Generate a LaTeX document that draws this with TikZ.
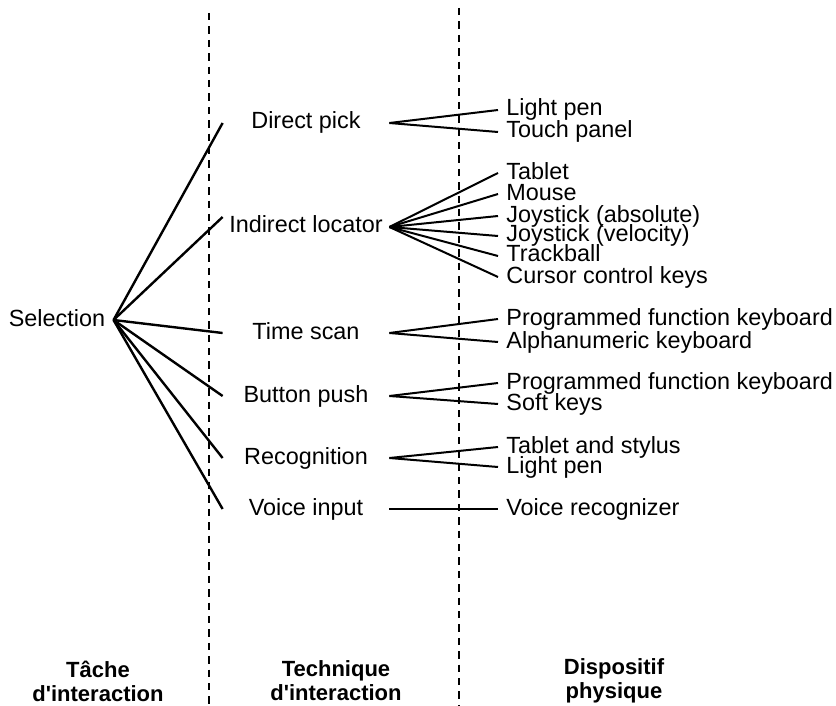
\documentclass[tikz,border=0pt]{standalone}
\usepackage{fontspec}
\setmainfont{Liberation Sans}
\begin{document}
\begin{tikzpicture}[x=0.5pt,y=-0.5pt]
  \tikzset{task/.style = {font=\fontsize{11.7}{14}\selectfont,inner xsep=4pt,inner ysep=0pt,text height=8.4pt,text depth=2.4pt}}
  \tikzset{technique/.style = {task,minimum width=83pt,inner xsep=0pt}}
  \tikzset{device/.style = {task,anchor=west}}
  \tikzset{level/.style = {font=\fontsize{11}{12}\selectfont\bfseries,align=center}}
  \tikzset{branch/.style = {line width=1pt}}
  \tikzset{divider/.style = {dash pattern=on 3.7pt off 3pt,line width=0.8pt}}
  \useasboundingbox (0,0) rectangle (836,706);

  % columns
  \draw[divider] (209,13) -- (209,706);
  \draw[divider] (459,8) -- (459,706);

  \node[task] (sel) at (57,320) {Selection};

  \node[technique] (dp) at (306,123) {Direct pick};
  \node[technique] (il) at (306,227) {Indirect locator};
  \node[technique] (ts) at (306,333) {Time scan};
  \node[technique] (bp) at (306,396) {Button push};
  \node[technique] (rc) at (306,458) {Recognition};
  \node[technique] (vi) at (306,509) {Voice input};

  \node[device] (lp1) at (498,110) {Light pen};
  \node[device] (tp) at (498,132) {Touch panel};
  \node[device] (tab) at (498,173) {Tablet};
  \node[device] (mou) at (498,194) {Mouse};
  \node[device] (jsa) at (498,216) {Joystick (absolute)};
  \node[device] (jsv) at (498,236) {Joystick (velocity)};
  \node[device] (tb) at (498,256) {Trackball};
  \node[device] (cck) at (498,277) {Cursor control keys};
  \node[device] (pfk1) at (498,319) {Programmed function keyboard};
  \node[device] (ank) at (498,342) {Alphanumeric keyboard};
  \node[device] (pfk2) at (498,383) {Programmed function keyboard};
  \node[device] (sk) at (498,404) {Soft keys};
  \node[device] (tas) at (498,447) {Tablet and stylus};
  \node[device] (lp2) at (498,467) {Light pen};
  \node[device] (vr) at (498,509) {Voice recognizer};

  \node[level] (l1) at (98,681) {Tâche\\d\textquotesingle interaction};
  \node[level] (l2) at (336,681) {Technique\\d\textquotesingle interaction};
  \node[level] (l3) at (614,681) {Dispositif\\physique};

  \foreach \to in {dp,ts,bp,rc,vi}
    \draw[branch,line width=1.2pt] (sel.east) -- (\to.west);
  \draw[branch,line width=1.2pt] (sel.east) -- ([yshift=5pt]il.west);

  \foreach \from/\to in {dp/lp1,dp/tp,il/tab,il/mou,il/jsa,il/jsv,il/tb,il/cck,ts/pfk1,ts/ank,bp/pfk2,bp/sk,rc/tas,rc/lp2,vi/vr}
    \draw[branch] (\from.east) -- (\to.west);
\end{tikzpicture}
\end{document}
